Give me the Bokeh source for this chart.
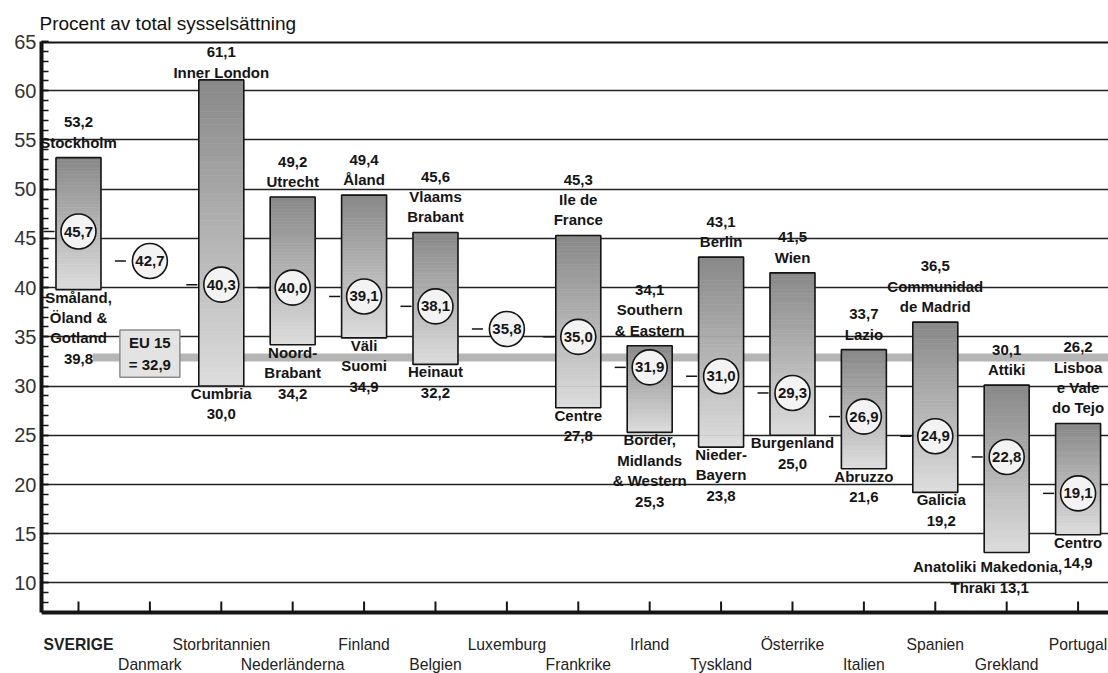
from bokeh.plotting import figure
from bokeh.models import ColumnDataSource, FixedTicker, Span, Range1d
from bokeh.core.properties import value
from bokeh.embed import file_html
from bokeh.resources import INLINE

# ---------------- data ----------------
countries = ["SVERIGE", "Danmark", "Storbritannien", "Nederländerna", "Finland",
             "Belgien", "Luxemburg", "Frankrike", "Irland", "Tyskland",
             "Österrike", "Italien", "Spanien", "Grekland", "Portugal"]
national_avg = [45.7, 42.7, 40.3, 40.0, 39.1, 38.1, 35.8, 35.0, 31.9, 31.0,
                29.3, 26.9, 24.9, 22.8, 19.1]
max_value = [53.2, None, 61.1, 49.2, 49.4, 45.6, None, 45.3, 34.1, 43.1,
             41.5, 33.7, 36.5, 30.1, 26.2]
max_region = ["Stockholm", "", "Inner London", "Utrecht", "Åland",
              "Vlaams\nBrabant", "", "Ile de\nFrance", "Southern\n& Eastern",
              "Berlin", "Wien", "Lazio", "Communidad\nde Madrid", "Attiki",
              "Lisboa\ne Vale\ndo Tejo"]
min_value = [39.8, None, 30.0, 34.2, 34.9, 32.2, None, 27.8, 25.3, 23.8,
             25.0, 21.6, 19.2, 13.1, 14.9]
min_region = ["Småland,\nÖland &\nGotland", "", "Cumbria", "Noord-\nBrabant",
              "Väli\nSuomi", "Heinaut", "", "Centre",
              "Border,\nMidlands\n& Western", "Nieder-\nBayern", "Burgenland",
              "Abruzzo", "Galicia", "Anatoliki  Makedonia,\nThraki", "Centro"]
eu15 = 32.9
title = "Procent av total sysselsättning"
y_ticks = [10, 15, 20, 25, 30, 35, 40, 45, 50, 55, 60, 65]

# ---------------- style ----------------
FONT_NAME = "Liberation Sans"
FONT = value(FONT_NAME)
INK = "#151515"
W, H = 1108, 673
LEFT, TOP = 41, 41
X_START, X_END = -0.518, 14.426
AXIS_Y, Y_END = 7, 65
PX_PER_UNIT = 9.8448
Y_START = AXIS_Y - (H - 612) / PX_PER_UNIT   # frame extends below the axis for labels
HALF_W = 0.315
TOP_COL = (0x88, 0x88, 0x88)
BOT_COL = (0xdd, 0xdd, 0xdd)
N_SLICES = 48
TICK_LEN = 11 / PX_PER_UNIT
ROW_Y = [AXIS_Y - 32 / PX_PER_UNIT, AXIS_Y - 52 / PX_PER_UNIT]
# label tweaks (screen pixels)
max_dy = {"Storbritannien": 8}
min_dx = {"Spanien": 6, "Grekland": -17}
min_dy = {"Grekland": 7}
inline_value = {"Grekland"}


def fmt(v):
    return f"{v:.1f}".replace(".", ",")


def mix(t):
    c = [round(b + (a - b) * t) for a, b in zip(TOP_COL, BOT_COL)]
    return "#%02x%02x%02x" % tuple(c)


xs = list(range(len(countries)))

p = figure(width=W, height=H, output_backend="svg", toolbar_location=None,
           x_range=Range1d(X_START, X_END), y_range=Range1d(Y_START, Y_END),
           x_axis_location=None,
           min_border_left=LEFT, min_border_right=0, min_border_top=TOP,
           min_border_bottom=0)
p.outline_line_color = None
p.background_fill_color = "white"
p.border_fill_color = "white"

p.title.text = title
p.title.align = "left"
p.title.offset = -2
p.title.text_font = FONT_NAME
p.title.text_font_size = "19px"
p.title.text_font_style = "normal"
p.title.text_color = "#111111"
p.title.standoff = 16

# y axis
p.yaxis.bounds = (AXIS_Y, Y_END)
p.yaxis.ticker = FixedTicker(ticks=y_ticks, minor_ticks=list(range(AXIS_Y, Y_END + 1)))
p.yaxis.axis_line_width = 4
p.yaxis.axis_line_color = INK
p.yaxis.major_tick_in = 7
p.yaxis.major_tick_out = 0
p.yaxis.minor_tick_in = 7
p.yaxis.minor_tick_out = 0
p.yaxis.major_tick_line_width = 1.5
p.yaxis.minor_tick_line_width = 1.5
p.yaxis.major_tick_line_color = INK
p.yaxis.minor_tick_line_color = INK
p.yaxis.major_label_text_font = FONT_NAME
p.yaxis.major_label_text_font_size = "20px"
p.yaxis.major_label_text_color = "#333333"
p.yaxis.major_label_standoff = 5

p.xgrid.visible = False
p.ygrid.ticker = FixedTicker(ticks=[t for t in y_ticks if t < Y_END])
p.ygrid.grid_line_color = "#222222"
p.ygrid.grid_line_width = 1.5

# frame lines: top border and category axis
p.add_layout(Span(location=Y_END, dimension="width", line_color=INK, line_width=4))
p.add_layout(Span(location=AXIS_Y, dimension="width", line_color=INK, line_width=4))
p.segment(x0=xs, y0=[AXIS_Y] * len(xs), x1=xs, y1=[AXIS_Y + TICK_LEN] * len(xs),
          line_color=INK, line_width=2)

# EU15 band
dan = countries.index("Danmark")
p.segment(x0=[0.2], y0=[eu15], x1=[X_END], y1=[eu15], line_color="#b5b5b5", line_width=8)

# gradient boxes
q_l, q_r, q_b, q_t, q_c = [], [], [], [], []
box_x, box_lo, box_hi = [], [], []
for i, (lo, hi) in enumerate(zip(min_value, max_value)):
    if lo is None or hi is None:
        continue
    box_x.append(i)
    box_lo.append(lo)
    box_hi.append(hi)
    for k in range(N_SLICES):
        t0 = k / N_SLICES
        t1 = (k + 1) / N_SLICES
        q_l.append(i - HALF_W)
        q_r.append(i + HALF_W)
        q_b.append(lo + (hi - lo) * t0)
        q_t.append(lo + (hi - lo) * t1)
        q_c.append(mix((t0 + t1) / 2))
p.quad(left=q_l, right=q_r, bottom=q_b, top=q_t, fill_color=q_c, line_color=q_c,
       line_width=0.6)
p.quad(left=[x - HALF_W for x in box_x], right=[x + HALF_W for x in box_x],
       bottom=box_lo, top=box_hi, fill_color=None, line_color=INK, line_width=1.6)

# EU15 label box
p.rect(x=[dan], y=[eu15 + 0.4], width=0.84, height=4.8, fill_color="#e3e3e3",
       line_color="#8c8c8c", line_width=1.5)
p.text(x=[dan], y=[eu15 + 0.4], text=["EU 15\n= " + fmt(eu15)], text_font=FONT,
       text_font_size="15px", text_font_style="bold", text_color=INK,
       text_align="center", text_baseline="middle", text_line_height=1.25)

# dashes and circles for national averages
p.segment(x0=[x - 0.49 for x in xs], y0=national_avg, x1=[x - 0.335 for x in xs],
          y1=national_avg, line_color=INK, line_width=1.5)
p.scatter(x=xs, y=national_avg, marker="circle", size=35, fill_color="#f3f3f3",
          line_color=INK, line_width=1.6)
p.text(x=xs, y=national_avg, text=[fmt(v) for v in national_avg], text_font=FONT,
       text_font_size="15px", text_font_style="bold", text_color=INK,
       text_align="center", text_baseline="middle")

# max labels
mx = ColumnDataSource(dict(
    x=[i for i in box_x],
    y=[max_value[i] for i in box_x],
    t=[fmt(max_value[i]) + "\n" + max_region[i] for i in box_x],
    dy=[-7 + max_dy.get(countries[i], 0) for i in box_x],
))
p.text(x="x", y="y", text="t", y_offset="dy", source=mx, text_font=FONT,
       text_font_size="15px", text_font_style="bold", text_color=INK,
       text_align="center", text_baseline="bottom", text_line_height=1.2)

# min labels
mn = ColumnDataSource(dict(
    x=[i for i in box_x],
    y=[min_value[i] for i in box_x],
    t=[min_region[i] + (" " if countries[i] in inline_value else "\n") + fmt(min_value[i])
       for i in box_x],
    dx=[min_dx.get(countries[i], 0) for i in box_x],
    dy=[-1 + min_dy.get(countries[i], 0) for i in box_x],
))
p.text(x="x", y="y", text="t", x_offset="dx", y_offset="dy", source=mn, text_font=FONT,
       text_font_size="15px", text_font_style="bold", text_color=INK,
       text_align="center", text_baseline="top", text_line_height=1.2)

# category labels (two staggered rows below the axis)
cat = ColumnDataSource(dict(
    x=xs,
    y=[ROW_Y[i % 2] for i in xs],
    t=countries,
    st=["bold" if i == 0 else "normal" for i in xs],
))
p.text(x="x", y="y", text="t", source=cat, text_font=FONT, text_font_size="15.7px",
       text_font_style="st", text_color="#222222", text_align="center",
       text_baseline="middle")

open("out.html", "w").write(file_html(p, INLINE))
